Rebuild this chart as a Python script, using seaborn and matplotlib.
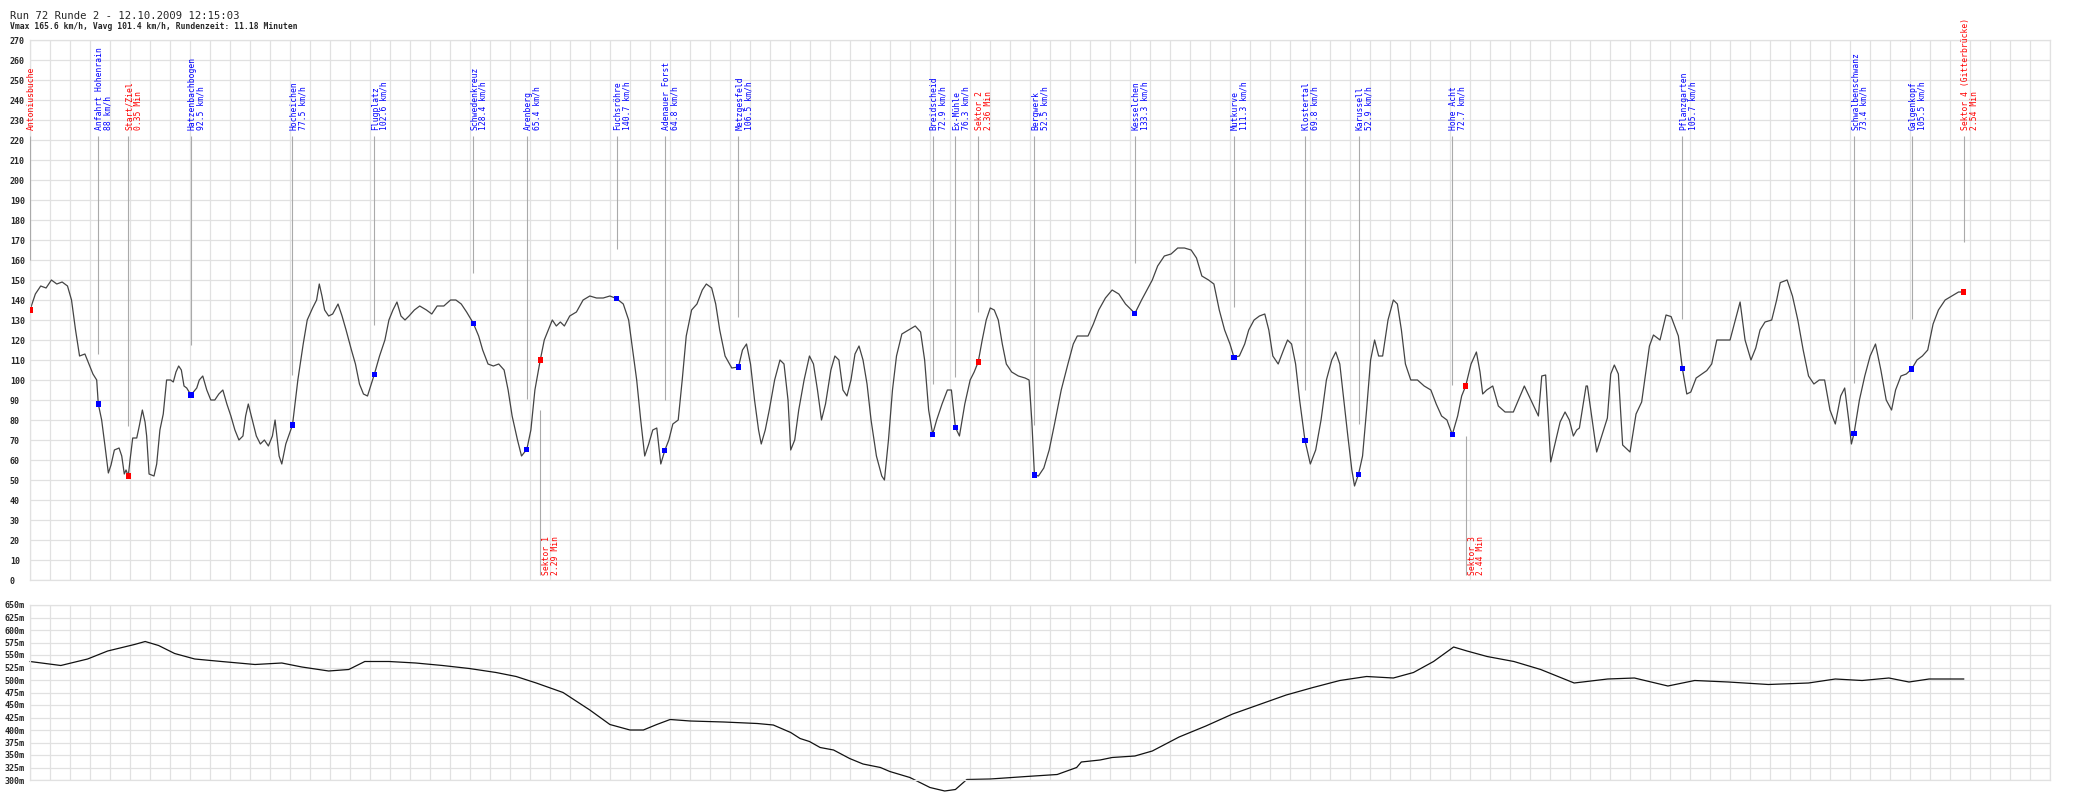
import numpy as np
import pandas as pd
import matplotlib
matplotlib.use("Agg")
import matplotlib.pyplot as plt
from matplotlib.ticker import MultipleLocator
import seaborn as sns

sns.set(style="whitegrid")
plt.rcParams['font.family'] = ['DejaVu Sans Mono', 'DejaVu Sans']

# distance along the lap (arbitrary units, 0 .. 1508 = full plot width)
speed_dist = [0, 4, 8, 12, 16, 20, 24, 28, 31, 34, 37, 41, 44, 47, 49.8, 51, 53.5, 56, 58.5, 60.5,
              63, 66.5, 68.5, 70.4, 71.7, 73.4, 74.7, 76.7, 79.7, 81.6, 83.9, 85.9, 87.1, 88.9, 92.6, 94.6,
              97, 99.5, 102, 105, 107, 109, 111, 113, 115, 117, 120.2, 124.5, 126.4, 129, 132, 135,
              138, 141, 144, 147, 150, 153, 156, 159, 161, 163, 166, 169, 172, 175, 178, 181, 183, 186,
              188, 191, 196, 200, 204, 207, 211, 214, 216, 218, 220, 223, 226, 230, 233, 236, 240, 243,
              246, 249, 252, 257, 261, 265, 268, 271, 274, 277, 280, 283, 287, 291, 296, 300, 304, 309,
              314, 318, 322, 326, 331, 335, 338, 342, 346, 350, 354, 357, 360, 364, 367, 371, 374, 377,
              381, 384, 387, 390, 393, 396, 399, 403, 408, 413, 418, 423, 428, 433, 438, 443, 447, 450,
              453, 456, 459, 462, 465, 468, 471, 474, 477, 480, 484, 487, 490, 494, 498, 502, 505, 509,
              512, 515, 519, 524, 529, 532, 535, 538, 541, 544, 546, 549, 552, 556, 560, 563, 566, 568,
              571, 574, 578, 582, 585, 588, 591, 594, 598, 601, 604, 607, 610, 613, 616, 619, 622, 625,
              628, 632, 636, 638, 641, 644, 647, 651, 656, 661, 665, 668, 671, 674, 677, 681, 685, 688,
              691, 694, 698, 702, 705, 708, 711, 714, 717, 720, 723, 726, 729, 733, 738, 743, 746, 748,
              750, 753, 757, 761, 765, 770, 775, 779, 782, 786, 790, 794, 798, 803, 808, 813, 818, 825,
              830, 834, 838, 842, 847, 852, 857, 862, 867, 871, 875, 880, 884, 888, 892, 896, 899, 903,
              907, 910, 914, 918, 922, 925, 928, 932, 936, 939, 942, 945, 948, 952, 956, 960, 964, 968,
              972, 975, 978, 981, 984, 987, 989, 992, 995, 998, 1001, 1004, 1007, 1010, 1014, 1018, 1021,
              1024, 1027, 1031, 1036, 1041, 1046, 1050, 1054, 1058, 1062, 1066, 1069, 1072, 1076, 1080,
              1082.7, 1084.7, 1087.7, 1092.2, 1096.4, 1101.4, 1107.6, 1115.8, 1126.3, 1128.8, 1131.7,
              1135.5, 1142.5, 1146.2, 1149.4, 1152.4, 1154.9, 1156.9, 1161.9, 1162.9, 1169.8, 1177.8,
              1180.3, 1183, 1186, 1189.2, 1194.7, 1199.2, 1203.4, 1209.2, 1212.2, 1217.1, 1221.6, 1225.4,
              1230.8, 1233.8, 1237.1, 1240.1, 1244.1, 1252, 1255.7, 1259.5, 1269.4, 1276.9, 1280.6, 1285,
              1288.6, 1291.8, 1295.5, 1300.5, 1304.2, 1306.9,
              1312, 1316, 1320, 1324, 1328, 1332, 1336, 1340, 1344, 1348, 1352, 1355,
              1358, 1360, 1362, 1366, 1370, 1374, 1378, 1382, 1386, 1390, 1393, 1397, 1401, 1405, 1409,
              1413, 1417, 1421, 1425, 1430, 1435, 1440, 1444]
speed_kmh = [135, 143, 147, 146, 150, 148, 149, 147, 140, 125, 112, 113, 108, 103, 100, 88, 80, 67, 53.5, 57.5,
             65, 66, 62, 53, 55, 52, 60, 71, 71, 77, 85, 79, 72, 53, 52, 58,
             75, 83, 100, 100, 99, 104, 107, 105, 97, 96, 92.5, 96, 100, 102, 95, 90,
             90, 93, 95, 88, 82, 75, 70, 72, 82, 88, 80, 72, 68, 70, 67, 72, 80, 62,
             58, 68, 77.5, 100, 118, 130, 136, 140, 148, 142, 135, 132, 133, 138, 132, 125, 115, 108,
             98, 93, 92, 102.6, 112, 120, 130, 135, 139, 132, 130, 132, 135, 137, 135, 133, 137, 137,
             140, 140, 138, 134, 128.4, 122, 115, 108, 107, 108, 105, 95, 82, 70, 62, 65.4, 75, 95,
             110, 120, 125, 130, 127, 129, 127, 132, 134, 140, 142, 141, 141, 142, 140.7, 138, 130, 115,
             100, 80, 62, 68, 75, 76, 58, 64.8, 70, 78, 80, 100, 122, 135, 138, 145, 148, 146,
             138, 125, 112, 106, 106.5, 115, 118, 108, 90, 75, 68, 75, 85, 100, 110, 108, 90, 65,
             70, 85, 100, 112, 108, 95, 80, 88, 105, 112, 110, 95, 92, 100, 113, 117, 110, 98,
             80, 62, 52, 50, 70, 95, 112, 123, 125, 127, 124, 110, 85, 72.9, 80, 88, 95, 95,
             76.3, 72, 88, 100, 104, 109, 120, 130, 136, 135, 130, 118, 108, 104, 102, 101, 100, 80,
             52.5, 52, 56, 65, 78, 95, 108, 118, 122, 122, 122, 128, 135, 141, 145, 143, 138, 133.3,
             140, 145, 150, 157, 162, 163, 166, 166, 165, 161, 152, 150, 148, 135, 125, 118, 111.3, 112,
             118, 125, 130, 132, 133, 125, 112, 108, 115, 120, 118, 108, 90, 69.8, 58, 65, 80, 100,
             110, 114, 108, 90, 72, 55, 47, 52.9, 62, 85, 110, 120, 112, 112, 130, 140, 138,
             125, 108, 100, 100, 97, 95, 88, 82, 80, 72.7, 82, 92, 97, 108, 114,
             104, 93, 95, 97, 87, 84, 84, 97, 82, 102, 102.5,
             59, 79, 84, 80, 72, 75, 76, 97, 97, 64, 81,
             103, 107.5, 103, 67.5, 64, 83, 89, 117, 122.5, 120, 132.5, 131.7,
             122, 105.7, 93, 94, 101, 104.7, 108, 120, 120, 139, 120, 110,
             116, 125, 129, 130, 140, 148.7,
             150, 142, 130, 115, 102, 98, 100, 100, 85, 78, 92, 96,
             80, 68, 73.4, 90, 102, 112, 118, 105, 90, 85, 95, 102, 103, 105.5, 110,
             112, 115, 128, 135, 140, 142, 144, 144]

elev_dist = [0, 23, 43, 58, 78, 86, 96, 108, 123, 143, 168, 188, 203, 223, 238, 250, 268, 288, 308, 328,
             348, 363, 378, 398, 418, 433, 448, 458, 468, 478, 493, 518, 543, 555, 568, 575, 582, 590,
             600, 612, 622, 635, 642, 657, 672, 683, 691, 699.5, 717, 744, 767, 781.5, 785, 799, 808,
             825, 838, 858, 878, 898, 918, 938, 958, 978, 998, 1018,
             1033, 1048, 1063, 1073, 1088, 1108, 1128, 1153, 1178, 1198, 1223, 1243, 1268, 1298, 1328,
             1348, 1368, 1388, 1403, 1418, 1444]
elev_m = [537, 529, 542, 558, 571, 577, 569, 553, 542, 537, 531, 534, 526, 518, 521, 537, 537, 534, 529, 523,
          515, 507, 494, 475, 440, 411, 400, 400, 411, 421, 418, 416, 413, 410, 395, 383, 377, 365,
          360, 343, 332, 325, 317, 305, 285, 278, 281, 301, 302, 307, 311, 325, 336, 340, 345,
          348, 358, 386, 408, 432, 451, 470, 485, 499, 507, 504,
          515, 537, 566, 558, 547, 537, 521, 494, 502, 504, 488, 499, 496, 491, 494,
          502, 499, 504, 496, 502, 502]

point_names = ["Antoniusbuche", "Anfahrt Hohenrain", "Start/Ziel", "Hatzenbachbogen", "Hocheichen",
               "Flugplatz", "Schwedenkreuz", "Arenberg", "Sektor 1", "Fuchsröhre", "Adenauer Forst",
               "Metzgesfeld", "Breidscheid", "Ex-Mühle", "Sektor 2", "Bergwerk", "Kesselchen", "Mutkurve",
               "Klostertal", "Karussell", "Hohe Acht", "Sektor 3", "Pflanzgarten", "Schwalbenschwanz",
               "Galgenkopf", "Sektor 4 (Gitterbrücke)"]
point_dist = [0, 51, 73.4, 120.2, 196, 257, 331, 371, 381, 438, 474, 529, 674, 691, 708, 750, 825, 899,
              952, 992, 1062, 1072, 1233.8, 1362, 1405, 1444]
point_kmh = [135, 88, 52, 92.5, 77.5, 102.6, 128.4, 65.4, 110, 140.7, 64.8, 106.5, 72.9, 76.3, 109, 52.5,
             133.3, 111.3, 69.8, 52.9, 72.7, 97, 105.7, 73.4, 105.5, 144]
point_info = ["", "88 km/h", "0.35 Min", "92.5 km/h", "77.5 km/h", "102.6 km/h", "128.4 km/h", "65.4 km/h",
              "2.29 Min", "140.7 km/h", "64.8 km/h", "106.5 km/h", "72.9 km/h", "76.3 km/h", "2.36 Min",
              "52.5 km/h", "133.3 km/h", "111.3 km/h", "69.8 km/h", "52.9 km/h", "72.7 km/h", "2.44 Min",
              "105.7 km/h", "73.4 km/h", "105.5 km/h", "2.54 Min"]
point_is_sector = [True, False, True, False, False, False, False, False, True, False, False, False, False,
                   False, True, False, False, False, False, False, False, True, False, False, False, True]
point_below = [n in ("Sektor 1", "Sektor 3") for n in point_names]

X_MAX = 1508.3
GRID_X = X_MAX / 101
GRID_COL = "#e1e1e1"
LINE_COL = "#444444"
PIN_COL = "#aaaaaa"


def style_axis(ax, ymin, ymax, ystep, fmt, pad):
    ax.set_xlim(0, X_MAX)
    ax.set_ylim(ymin, ymax)
    ax.xaxis.set_major_locator(MultipleLocator(GRID_X))
    ax.yaxis.set_major_locator(MultipleLocator(ystep))
    ax.set_xticklabels([])
    ax.grid(True, color=GRID_COL, linewidth=0.9)
    ax.set_facecolor("white")
    for s in ax.spines.values():
        s.set_color(GRID_COL)
        s.set_linewidth(0.9)
    ax.tick_params(axis="both", length=0)
    ax.tick_params(axis="y", pad=pad, labelsize=6)
    ticks = np.arange(ymin, ymax + 1, ystep)
    ax.set_yticks(ticks)
    ax.set_yticklabels([fmt.format(t) for t in ticks], ha="left", fontweight="bold")
    ax.set_xlabel("")
    ax.set_ylabel("")


def speed_chart(ax):
    df = pd.DataFrame({"dist": speed_dist, "kmh": speed_kmh})
    sns.lineplot(data=df, x="dist", y="kmh", ax=ax, color=LINE_COL, linewidth=0.9,
                 estimator=None, sort=False)
    style_axis(ax, 0, 270, 10, "{:d}", 14.5)

    pts = pd.DataFrame({"dist": point_dist, "kmh": point_kmh, "sector": point_is_sector})
    for sector, col in [(False, "#0000ff"), (True, "#ff0000")]:
        sub = pts[pts["sector"] == sector]
        sns.scatterplot(data=sub, x="dist", y="kmh", ax=ax, color=col, marker="s", s=14,
                        edgecolor="none", zorder=5)

    for name, x, v, info, sec, below in zip(point_names, point_dist, point_kmh, point_info,
                                            point_is_sector, point_below):
        col = "#ff0000" if sec else "#0000ff"
        txt = name if info == "" else name + "\n" + info
        if below:
            ax.vlines(x, 2.5, v - 25, color=PIN_COL, linewidth=0.8, zorder=3)
            ax.annotate(txt, xy=(x, 2.5), xytext=(2, 0), textcoords="offset pixels",
                        rotation=90, ha="left", va="bottom", color=col, fontsize=5.8,
                        linespacing=0.95, zorder=6)
        else:
            ax.vlines(x, v + 25, 222, color=PIN_COL, linewidth=0.8, zorder=3)
            ax.annotate(txt, xy=(x, 225), xytext=(-3, 0), textcoords="offset pixels",
                        rotation=90, ha="left", va="bottom", color=col, fontsize=5.8,
                        linespacing=0.95, zorder=6)
    ax.set_xlabel("")
    ax.set_ylabel("")


def height_chart(ax):
    df = pd.DataFrame({"dist": elev_dist, "m": elev_m})
    # the profile dips below 300 m in the original, so it is not clipped
    sns.lineplot(data=df, x="dist", y="m", ax=ax, color="#111111", linewidth=0.9,
                 estimator=None, sort=False, clip_on=False)
    style_axis(ax, 300, 650, 25, "{:d}m", 18.5)


if __name__ == "__main__":
    fig = plt.figure(figsize=(21, 8), dpi=100)
    fig.patch.set_facecolor("white")
    ax1 = fig.add_axes([30 / 2100, 1 - 580 / 800, 2020 / 2100, 540 / 800])
    ax2 = fig.add_axes([30 / 2100, 1 - 780 / 800, 2020 / 2100, 175 / 800])
    speed_chart(ax1)
    height_chart(ax2)

    fig.text(10 / 2100, 1 - 19 / 800, "Run 72 Runde 2 - 12.10.2009 12:15:03", fontsize=7.6,
             va="baseline", ha="left")
    fig.text(10 / 2100, 1 - 29 / 800,
             "Vmax 165.6 km/h, Vavg 101.4 km/h, Rundenzeit: 11.18 Minuten", fontsize=5.8,
             va="baseline", ha="left", fontweight="bold")
    fig.savefig("out.png", dpi=100, facecolor="white")
